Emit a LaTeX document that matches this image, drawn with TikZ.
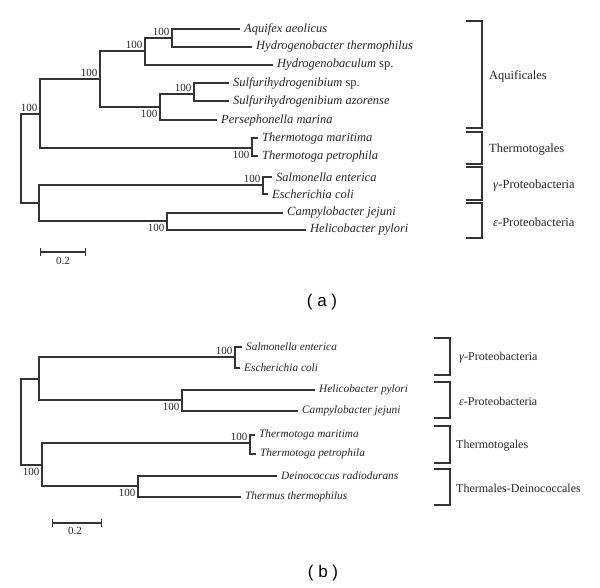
\documentclass[tikz,border=0pt]{standalone}
\usepackage{fontspec}
\setmainfont{Liberation Serif}
\newfontfamily\capfont{Liberation Sans}
\usetikzlibrary{arrows}

\begin{document}
\begin{tikzpicture}[x=1pt,y=-1pt,
    br/.style={draw=black!80,line width=1.15pt},
    sp/.style={font=\fontsize{12.5}{14}\selectfont\itshape,inner sep=4pt,text=black!85},
    spb/.style={font=\fontsize{11.3}{13}\selectfont\itshape,inner sep=4pt,text=black!85},
    bs/.style={font=\fontsize{11}{13}\selectfont,inner sep=2.5pt,text=black!85},
    grp/.style={anchor=west,inner sep=0pt,text=black!85},
    panel/.style={font=\capfont\fontsize{17}{20}\selectfont}]
\useasboundingbox (0,0) rectangle (600,588);

% (a)
\coordinate[label={[sp]right:Aquifex aeolicus}] (aae) at (240,29);
\coordinate[label={[sp]right:Hydrogenobacter thermophilus}] (hth) at (252,47);
\coordinate[label={[sp]right:Hydrogenobaculum \textup{sp.}}] (hsp) at (273,65);
\coordinate[label={[sp]right:Sulfurihydrogenibium \textup{sp.}}] (ssp) at (229,83);
\coordinate[label={[sp]right:Sulfurihydrogenibium azorense}] (saz) at (229,101);
\coordinate[label={[sp]right:Persephonella marina}] (pma) at (217,120);
\coordinate[label={[sp]right:Thermotoga maritima}] (tma) at (258,138);
\coordinate[label={[sp]right:Thermotoga petrophila}] (tpe) at (258,156);
\coordinate[label={[sp]right:Salmonella enterica}] (sen) at (272,177);
\coordinate[label={[sp]right:Escherichia coli}] (eco) at (268,194);
\coordinate[label={[sp]right:Campylobacter jejuni}] (cje) at (283,213);
\coordinate[label={[sp]right:Helicobacter pylori}] (hpy) at (306,230);

\coordinate (a0) at (21,158);
\coordinate[label={[bs]above left:100}] (a1) at (40,114);
\coordinate[label={[bs]above left:100}] (a2) at (100,79);
\coordinate[label={[bs]above left:100}] (a3) at (145,51);
\coordinate[label={[bs]above left:100}] (a4) at (172,38);
\coordinate[label={[bs]below left:100}] (a5) at (160,107);
\coordinate[label={[bs]above left:100}] (a6) at (194,94);
\coordinate[label={[bs]below left:100}] (a7) at (252,148);
\coordinate (a8) at (39,203);
\coordinate[label={[bs]above left:100}] (a9) at (263,185);
\coordinate[label={[bs]below left:100}] (a10) at (167,221);

\draw[br] (a0) |- (a1) (a0) |- (a8)
          (a1) |- (a2) (a1) |- (a7)
          (a2) |- (a3) (a2) |- (a5)
          (a3) |- (a4) (a3) |- (hsp)
          (a4) |- (aae) (a4) |- (hth)
          (a5) |- (a6) (a5) |- (pma)
          (a6) |- (ssp) (a6) |- (saz)
          (a7) |- (tma) (a7) |- (tpe)
          (a8) |- (a9) (a8) |- (a10)
          (a9) |- (sen) (a9) |- (eco)
          (a10) |- (cje) (a10) |- (hpy);

\foreach \top/\bot/\lx/\txt in {21/128/489/Aquificales,132/164/489/Thermotogales,
    167/200/493/{\textit{γ}-Proteobacteria},203/238/493/{\textit{ε}-Proteobacteria}}{
  \draw[br] (466,\top) -- (482,\top) -- (482,\bot) -- (466,\bot);
  \node[grp,font=\fontsize{12.5}{14}\selectfont] at (\lx,{(\top+\bot)/2+1.5}) {\txt};
}

\coordinate (sa1) at (40,252);
\coordinate (sa2) at (86,252);
\draw[br,|-|] (sa1) -- (sa2);
\node[bs] at (63,261) {0.2};
\node[panel] at (322,302) {( a )};

% (b)
\coordinate[label={[spb]right:Salmonella enterica}] (bsen) at (242,347);
\coordinate[label={[spb]right:Escherichia coli}] (beco) at (240,368);
\coordinate[label={[spb]right:Helicobacter pylori}] (bhpy) at (315,390);
\coordinate[label={[spb]right:Campylobacter jejuni}] (bcje) at (298,411);
\coordinate[label={[spb]right:Thermotoga maritima}] (btma) at (255,435);
\coordinate[label={[spb]right:Thermotoga petrophila}] (btpe) at (256,454);
\coordinate[label={[spb]right:Deinococcus radiodurans}] (bdra) at (277,476);
\coordinate[label={[spb]right:Thermus thermophilus}] (btth) at (241,497);

\coordinate (b0) at (21,420);
\coordinate (b1) at (39,379);
\coordinate[label={[bs]above left:100}] (b2) at (235,357);
\coordinate[label={[bs]below left:100}] (b3) at (182,400);
\coordinate[label={[bs]below left:100}] (b4) at (42,465);
\coordinate[label={[bs]above left:100}] (b5) at (250,443);
\coordinate[label={[bs]below left:100}] (b6) at (138,486);

\draw[br] (b0) |- (b1) (b0) |- (b4)
          (b1) |- (b2) (b1) |- (b3)
          (b2) |- (bsen) (b2) |- (beco)
          (b3) |- (bhpy) (b3) |- (bcje)
          (b4) |- (b5) (b4) |- (b6)
          (b5) |- (btma) (b5) |- (btpe)
          (b6) |- (bdra) (b6) |- (btth);

\foreach \top/\bot/\lx/\txt in {338/375/459/{\textit{γ}-Proteobacteria},382/418/459/{\textit{ε}-Proteobacteria},
    426/463/456/Thermotogales,469/505/456/Thermales-Deinococcales}{
  \draw[br] (434,\top) -- (450,\top) -- (450,\bot) -- (434,\bot);
  \node[grp,font=\fontsize{12}{14}\selectfont] at (\lx,{(\top+\bot)/2+1.5}) {\txt};
}

\coordinate (sb1) at (52,523);
\coordinate (sb2) at (102,523);
\draw[br,|-|] (sb1) -- (sb2);
\node[bs] at (75,531) {0.2};
\node[panel] at (323,573) {( b )};
\end{tikzpicture}
\end{document}
